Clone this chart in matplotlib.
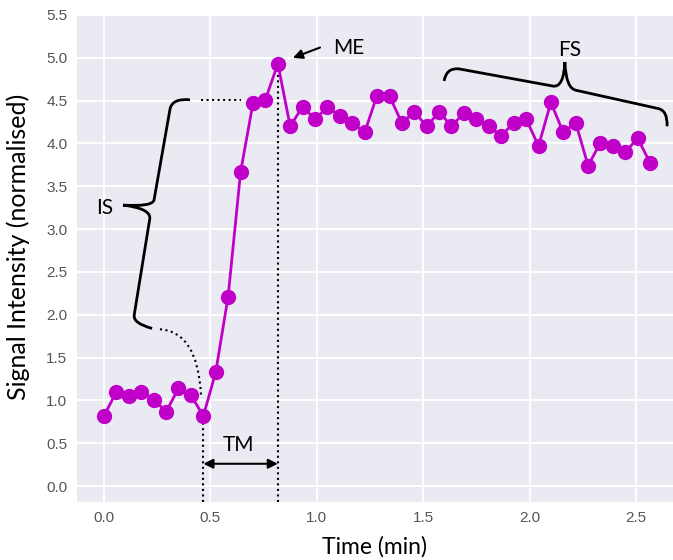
import matplotlib
matplotlib.use("Agg")
import matplotlib.pyplot as plt
from matplotlib.path import Path
from matplotlib.patches import PathPatch

# Signal sampled every 3.5 s
time_min = [0.000, 0.058, 0.117, 0.175, 0.233, 0.292, 0.350, 0.408, 0.467,
            0.525, 0.583, 0.642, 0.700, 0.758, 0.817, 0.875, 0.933, 0.992,
            1.050, 1.108, 1.167, 1.225, 1.283, 1.342, 1.400, 1.458, 1.517,
            1.575, 1.633, 1.692, 1.750, 1.808, 1.867, 1.925, 1.983, 2.042,
            2.100, 2.158, 2.217, 2.275, 2.333, 2.392, 2.450, 2.508, 2.567]
signal = [0.82, 1.10, 1.05, 1.10, 1.01, 0.87, 1.14, 1.06, 0.82,
          1.33, 2.21, 3.67, 4.47, 4.51, 4.93, 4.20, 4.43, 4.28,
          4.43, 4.32, 4.24, 4.13, 4.56, 4.55, 4.24, 4.37, 4.20,
          4.37, 4.20, 4.36, 4.29, 4.20, 4.09, 4.24, 4.29, 3.97,
          4.48, 4.13, 4.24, 3.74, 4.01, 3.97, 3.90, 4.06, 3.77]

x_ticks = [0.0, 0.5, 1.0, 1.5, 2.0, 2.5]
y_ticks = [0.0, 0.5, 1.0, 1.5, 2.0, 2.5, 3.0, 3.5, 4.0, 4.5, 5.0, 5.5]

start_idx = 8   # last baseline point
peak_idx = 14   # maximum enhancement

label_font = ["Lato", "DejaVu Sans"]

fig = plt.figure(figsize=(6.73, 5.6), dpi=100)
ax = fig.add_axes([77 / 673, 1 - 501.7 / 560, 1 - 77 / 673, (501.7 - 15) / 560])
ax.set_facecolor("#eaeaf2")
for s in ax.spines.values():
    s.set_visible(False)
ax.grid(True, color="white", linewidth=1.4)
ax.set_axisbelow(True)

ax.set_xlim(-0.127, 2.674)
ax.set_ylim(-0.183, 5.5)
ax.set_xticks(x_ticks)
ax.set_yticks(y_ticks)
ax.set_xticklabels([f"{v:.1f}" for v in x_ticks])
ax.set_yticklabels([f"{v:.1f}" for v in y_ticks])
ax.tick_params(length=0, labelsize=11, labelcolor="#555555", pad=7)
for lab in ax.get_xticklabels() + ax.get_yticklabels():
    lab.set_family("Liberation Sans")

ax.plot(time_min, signal, color="#c000c8", linewidth=2, marker="o",
        markersize=10, zorder=3)

# dotted guides
ybot = ax.get_ylim()[0]
for i in (start_idx, peak_idx):
    ax.plot([time_min[i], time_min[i]], [ybot, signal[i]], color="black",
            linestyle=":", linewidth=1.5, zorder=2)
ax.plot([0.456, 0.644], [4.51, 4.51], color="black", linestyle=":", linewidth=1.5)
curve = Path([(0.263, 1.83), (0.44, 1.80), (0.456, 1.06)],
             [Path.MOVETO, Path.CURVE3, Path.CURVE3])
ax.add_patch(PathPatch(curve, fill=False, edgecolor="black", linestyle=":", linewidth=1.5))

# TM arrow
ax.annotate("", xy=(time_min[peak_idx], 0.26), xytext=(time_min[start_idx], 0.26),
            arrowprops=dict(arrowstyle="<|-|>", color="black", lw=1.5,
                            mutation_scale=14, shrinkA=0, shrinkB=0))
ax.text(0.634, 0.48, "TM", ha="center", va="center", fontsize=15, family=label_font)

# ME arrow
ax.annotate("", xy=(0.888, 5.0), xytext=(1.015, 5.12),
            arrowprops=dict(arrowstyle="-|>", color="black", lw=1.5,
                            mutation_scale=14, shrinkA=0, shrinkB=0))
ax.text(1.076, 5.11, "ME", ha="left", va="center", fontsize=15, family=label_font)

# IS brace
M, C, L = Path.MOVETO, Path.CURVE3, Path.LINETO
is_brace = Path([(0.404, 4.51), (0.32, 4.53), (0.31, 4.40), (0.235, 3.34),
                 (0.228, 3.26), (0.09, 3.28),
                 (0.09, 3.28), (0.222, 3.24), (0.215, 3.12), (0.142, 2.0),
                 (0.135, 1.90), (0.226, 1.84)],
                [M, C, C, L, C, C, M, C, C, L, C, C])
ax.add_patch(PathPatch(is_brace, fill=False, edgecolor="black", linewidth=2))
ax.text(0.005, 3.25, "IS", ha="center", va="center", fontsize=15, family=label_font)

# FS brace
fs_brace = Path([(1.598, 4.73), (1.61, 4.89), (1.67, 4.87), (2.11, 4.67),
                 (2.16, 4.65), (2.166, 4.95),
                 (2.166, 4.95), (2.17, 4.64), (2.22, 4.62), (2.60, 4.41),
                 (2.65, 4.39), (2.646, 4.20)],
                [M, C, C, L, C, C, M, C, C, L, C, C])
ax.add_patch(PathPatch(fs_brace, fill=False, edgecolor="black", linewidth=2))
ax.text(2.19, 5.09, "FS", ha="center", va="center", fontsize=15, family=label_font)

# axis labels
fig.text(375 / 673, 1 - 547 / 560, "Time (min)", ha="center", va="center",
         fontsize=16.5, family=label_font)
fig.text(18 / 673, 1 - 247 / 560, "Signal Intensity (normalised)", ha="center",
         va="center", rotation=90, fontsize=18, family=label_font)

fig.savefig("out.png", dpi=100)
